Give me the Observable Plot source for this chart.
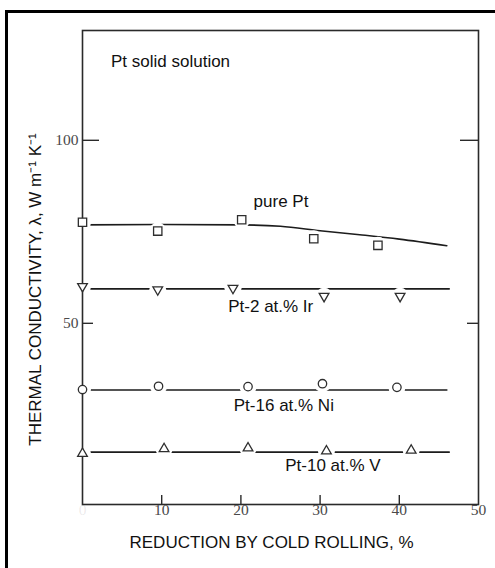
<!DOCTYPE html>
<html><head><meta charset="utf-8">
<script src="https://cdn.jsdelivr.net/npm/d3@7"></script>
<script src="https://cdn.jsdelivr.net/npm/@observablehq/plot@0.6"></script>
<style>html,body{margin:0;padding:0;background:#fff;overflow:hidden}</style>
</head><body><div id="chart"></div>
<script>
// ---- data ----
const xTicks = [0, 10, 20, 30, 40, 50];
const yTicks = [50, 100];
const seriesNames = ["pure Pt", "Pt-2 at.% Ir", "Pt-16 at.% Ni", "Pt-10 at.% V"];
const chartTitle = "Pt solid solution";
const xTitle = "REDUCTION BY COLD ROLLING, %";
const yTitle = "THERMAL CONDUCTIVITY, λ, W m⁻¹ K⁻¹";

// measured points
const ptX = [0, 9.5, 20.1, 29.2, 37.3];
const ptY = [77.6, 75.2, 78.3, 73.1, 71.3];
const irX = [0, 9.5, 19.0, 30.5, 40.1];
const irY = [60.1, 59.2, 59.6, 57.4, 57.4];
const niX = [0, 9.6, 20.9, 30.3, 39.7];
const niY = [31.9, 32.8, 32.7, 33.5, 32.5];
const vX  = [0, 10.3, 20.9, 30.8, 41.5];
const vY  = [14.4, 15.7, 15.9, 15.1, 15.3];

// drawn trend curves
const ptFitX = [0, 10, 20, 25, 30, 35, 40, 46];
const ptFitY = [76.9, 77.0, 76.9, 76.5, 75.3, 74.2, 73.0, 71.2];
const irFitX = [0, 46.3];
const irFitY = [59.4, 59.4];
const niFitX = [0, 46.0];
const niFitY = [31.8, 31.8];
const vFitX  = [0, 46.3];
const vFitY  = [14.8, 14.8];

// ---- build tables ----
const rows = (xs, ys, s) => xs.map((x, i) => ({x, y: ys[i], s}));
const ptPts = rows(ptX, ptY, seriesNames[0]);
const irPts = rows(irX, irY, seriesNames[1]);
const niPts = rows(niX, niY, seriesNames[2]);
const vPts  = rows(vX, vY, seriesNames[3]);
const allPts = [...ptPts, ...irPts, ...niPts, ...vPts];
const fits = [
  ...rows(ptFitX, ptFitY, seriesNames[0]),
  ...rows(irFitX, irFitY, seriesNames[1]),
  ...rows(niFitX, niFitY, seriesNames[2]),
  ...rows(vFitX, vFitY, seriesNames[3])
];

// ---- layout ----
const W = 495, H = 568, mL = 82, mR = 17, mT = 30, mB = 64;
const xDom = [0, 50], yDom = [0.5, 130];
const ux = (xDom[1] - xDom[0]) / (W - mL - mR);
const uy = (yDom[1] - yDom[0]) / (H - mT - mB);
const sans = "'Liberation Sans', Arial, Helvetica, sans-serif";
const serif = "'Liberation Serif', 'Times New Roman', serif";
const leftLen = d => d === 100 ? 17 : 11;
const rightLen = d => d === 100 ? 18 : 11;

const markerStyle = {fill: "white", stroke: "#2e2e2e", strokeWidth: 1.3};

const svg = Plot.plot({
  width: W, height: H,
  marginLeft: mL, marginRight: mR, marginTop: mT, marginBottom: mB,
  x: {domain: xDom, axis: null},
  y: {domain: yDom, axis: null},
  style: {fontFamily: sans, background: "white", color: "#111"},
  marks: [
    Plot.line(fits, {x: "x", y: "y", z: "s", curve: "monotone-x", stroke: "#1c1c1c", strokeWidth: 1.6}),
    Plot.dot(allPts, {x: "x", y: "y", r: 8.5, fill: "white", stroke: "none"}),
    Plot.frame({stroke: "#2a2a2a", strokeWidth: 1.6}),
    // inward ticks
    Plot.ruleY(yTicks, {y: d => d, x1: xDom[0], x2: d => xDom[0] + leftLen(d) * ux, stroke: "#2a2a2a", strokeWidth: 1.4}),
    Plot.ruleY(yTicks, {y: d => d, x1: d => xDom[1] - rightLen(d) * ux, x2: xDom[1], stroke: "#2a2a2a", strokeWidth: 1.4}),
    Plot.ruleX(xTicks.filter(d => d > xDom[0] && d < xDom[1]), {x: d => d, y1: yDom[0], y2: yDom[0] + 9 * uy, stroke: "#2a2a2a", strokeWidth: 1.4}),
    // tick labels
    Plot.text(xTicks, {x: d => d, frameAnchor: "bottom", dy: 10, text: d => String(d),
      fontFamily: serif, fontSize: 15.5, fill: "#4a4a4a", fillOpacity: d => d === 0 ? 0.12 : 1}),
    Plot.text(yTicks, {y: d => d, frameAnchor: "left", textAnchor: "end", dx: -4, text: d => String(d),
      fontFamily: serif, fontSize: 15.5, fill: "#4a4a4a"}),
    // markers
    Plot.dot(ptPts, {x: "x", y: "y", symbol: "square", r: 4.7, ...markerStyle}),
    Plot.dot(irPts, {x: "x", y: "y", symbol: "triangle", rotate: 180, r: 3.6, ...markerStyle}),
    Plot.dot(niPts, {x: "x", y: "y", symbol: "circle", r: 4.2, ...markerStyle}),
    Plot.dot(vPts,  {x: "x", y: "y", symbol: "triangle", r: 3.6, ...markerStyle}),
    // annotations
    Plot.text([chartTitle], {x: 3.6, y: 121.6, text: d => d, textAnchor: "start", fontSize: 17, fill: "#111"}),
    Plot.text([seriesNames[0]], {x: 21.6, y: 83.2, text: d => d, textAnchor: "start", fontSize: 17, fill: "#111"}),
    Plot.text([seriesNames[1]], {x: 18.4, y: 54.7, text: d => d, textAnchor: "start", fontSize: 17, fill: "#111"}),
    Plot.text([seriesNames[2]], {x: 19.1, y: 27.5, text: d => d, textAnchor: "start", fontSize: 17, fill: "#111"}),
    Plot.text([seriesNames[3]], {x: 25.6, y: 11.2, text: d => d, textAnchor: "start", fontSize: 17, fill: "#111"}),
    // axis titles
    Plot.text([xTitle], {frameAnchor: "bottom", dy: 43, dx: -9, text: d => d, fontSize: 17, fill: "#111"}),
    Plot.text([yTitle], {x: xDom[0] - 47 * ux, y: yDom[0] + (504 - 289) * uy, rotate: -90,
      text: d => d, fontSize: 17, fill: "#111", clip: false})
  ]
});

// outer border of the figure panel
d3.select(svg).append("path")
  .attr("d", `M6.5,${H + 20}V11.5H${W + 20}`)
  .attr("fill", "none").attr("stroke", "#000").attr("stroke-width", 3);

document.getElementById("chart").appendChild(svg);
</script></body></html>
